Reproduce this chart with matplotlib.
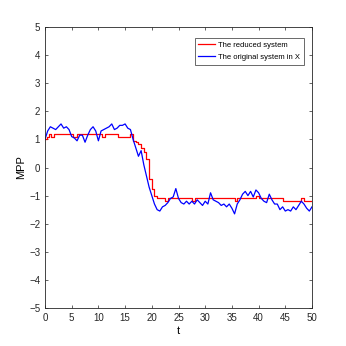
import matplotlib
matplotlib.use("Agg")
import matplotlib.pyplot as plt
import numpy as np

t_blue = [0, 0.5, 1, 1.5, 2, 2.5, 3, 3.5, 4, 4.5, 5, 5.5, 6, 6.5, 7, 7.5, 8, 8.5, 9, 9.5,
          10, 10.5, 11, 11.5, 12, 12.5, 13, 13.5, 14, 14.5, 15, 15.5, 16, 16.5, 17, 17.5, 18, 18.5, 19, 19.5,
          20, 20.5, 21, 21.5, 22, 22.5, 23, 23.5, 24, 24.5, 25, 25.5, 26, 26.5, 27, 27.5, 28, 28.5, 29, 29.5,
          30, 30.5, 31, 31.5, 32, 32.5, 33, 33.5, 34, 34.5, 35, 35.5, 36, 36.5, 37, 37.5, 38, 38.5, 39, 39.5,
          40, 40.5, 41, 41.5, 42, 42.5, 43, 43.5, 44, 44.5, 45, 45.5, 46, 46.5, 47, 47.5, 48, 48.5, 49, 49.5, 50]
x_blue = [1.0, 1.3, 1.45, 1.4, 1.35, 1.45, 1.55, 1.4, 1.45, 1.35, 1.1, 1.05, 0.95, 1.15, 1.15, 0.9, 1.15, 1.35, 1.45, 1.3,
          0.95, 1.3, 1.35, 1.4, 1.45, 1.55, 1.35, 1.4, 1.5, 1.5, 1.55, 1.4, 1.35, 1.0, 0.7, 0.4, 0.6, 0.1, -0.3, -0.7,
          -1.0, -1.3, -1.5, -1.55, -1.4, -1.35, -1.25, -1.1, -1.05, -0.75, -1.1, -1.25, -1.3, -1.2, -1.3, -1.2, -1.3, -1.15, -1.25, -1.35,
          -1.2, -1.3, -0.9, -1.15, -1.2, -1.25, -1.35, -1.3, -1.4, -1.3, -1.45, -1.65, -1.3, -1.15, -0.95, -0.85, -1.0, -0.85, -1.05, -0.8,
          -0.9, -1.1, -1.2, -1.25, -0.95, -1.15, -1.3, -1.3, -1.5, -1.4, -1.55, -1.5, -1.55, -1.4, -1.5, -1.35, -1.2, -1.3, -1.45, -1.55, -1.4]

t_red = [0, 0.4, 0.8, 1.2, 1.6, 4.6, 5.2, 6.0, 10.0, 10.6, 11.2, 13.0, 13.6, 16.0, 16.5, 17.0, 17.5, 18.0, 18.5, 19.0,
         19.5, 20.0, 20.5, 21.0, 22.0, 22.5, 23.0, 27.0, 27.5, 28.0, 35.0, 35.5, 36.0, 39.0, 39.5, 40.0, 44.0, 44.5,
         47.5, 48.0, 48.5, 50.0]
x_red = [1.0, 1.1, 1.2, 1.1, 1.2, 1.2, 1.1, 1.2, 1.2, 1.1, 1.2, 1.2, 1.1, 1.2, 0.95, 0.9, 0.85, 0.7, 0.55, 0.3,
         -0.4, -0.75, -1.0, -1.1, -1.1, -1.2, -1.1, -1.1, -1.2, -1.1, -1.1, -1.2, -1.1, -1.1, -1.0, -1.1, -1.1, -1.2,
         -1.2, -1.1, -1.2, -1.2]

plt.rcParams['font.family'] = ['Liberation Sans', 'DejaVu Sans']

fig = plt.figure(figsize=(3.46, 3.46), dpi=100)
ax = fig.add_axes([45/346, 1-308/346, (312-45)/346, (308-27)/346])

ax.plot(t_red, x_red, color='red', lw=0.9, drawstyle='steps-post', label='The reduced system')
ax.plot(t_blue, x_blue, color='blue', lw=0.9, label='The original system in X')

ax.set_xlim(0, 50)
ax.set_ylim(-5, 5)
ax.set_xticks(np.arange(0, 51, 5))
ax.set_yticks(np.arange(-5, 6, 1))
ax.tick_params(direction='in', top=True, right=True, labelsize=7, length=2.5, width=0.5, colors='#262626')
for s in ax.spines.values():
    s.set_linewidth(0.6)
    s.set_color('#262626')
ax.set_xlabel('t', fontsize=8, labelpad=2)
ax.set_ylabel('MPP', fontsize=8, labelpad=2)
leg = ax.legend(loc='upper right', fontsize=5.5, frameon=True, fancybox=False, edgecolor='#262626',
                handlelength=2.2, handletextpad=0.4, borderpad=0.5, labelspacing=0.6,
                bbox_to_anchor=(0.985, 0.975))
leg.get_frame().set_linewidth(0.6)

fig.savefig('out.png', dpi=100)
